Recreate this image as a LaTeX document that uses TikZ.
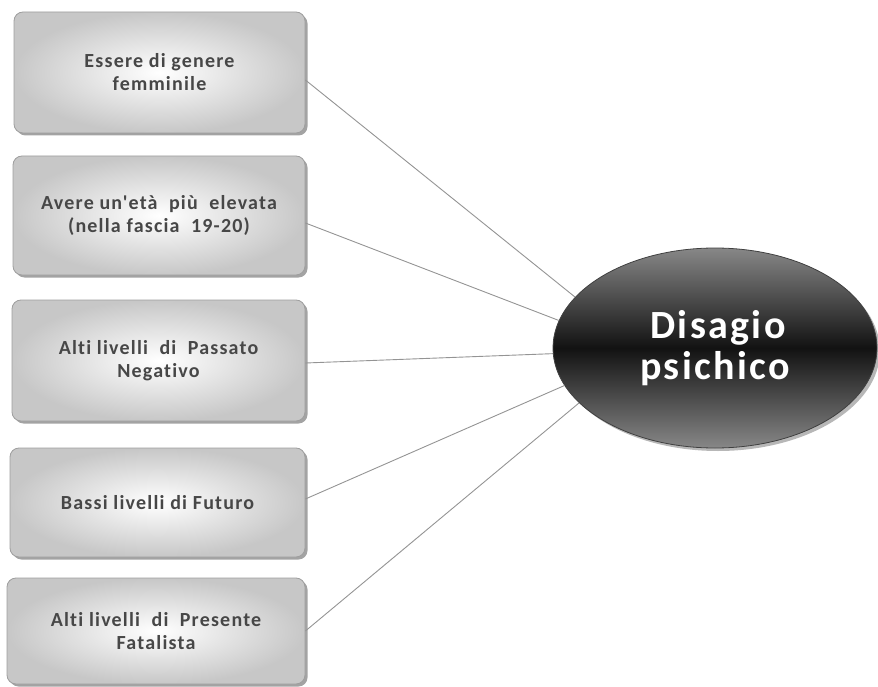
\documentclass[tikz,border=0pt]{standalone}
\usepackage{fontspec}
\setmainfont{Carlito}[Ligatures={TeXOff,NoCommon}]
\usetikzlibrary{shapes.geometric,shadows}

\begin{document}
\begin{tikzpicture}[x=1pt,y=-1pt,
  factor/.style={draw=black!38, line width=0.8pt, rounded corners=9pt,
    inner color=white, outer color=black!22, inner sep=0pt,
    align=center, text=black!72,
    font=\bfseries\fontsize{20}{23}\selectfont\addfontfeature{LetterSpace=6},
    drop shadow={shadow xshift=2.5pt, shadow yshift=-2.5pt, fill=black!45, opacity=0.8}},
  outcome/.style={ellipse, draw=black!75, line width=0.8pt, inner sep=0pt,
    minimum width=324pt, minimum height=200pt,
    top color=black!47, bottom color=black!47, middle color=black!93,
    align=center, text=white,
    font=\bfseries\fontsize{40}{41}\selectfont\addfontfeature{LetterSpace=6},
    drop shadow={shadow xshift=3pt, shadow yshift=-3pt, fill=black!40, opacity=0.7}},
  link/.style={draw=black!42, line width=0.9pt}]

\useasboundingbox (0,0) rectangle (878,687);

% risk factors
\node[factor, minimum width=291pt, minimum height=121pt] (b1) at (159.5,72.5)
  {Essere di genere\\femminile};
\node[factor, minimum width=292pt, minimum height=119pt] (b2) at (159,215.5)
  {Avere un'età \ più \ elevata\\(nella fascia \ 19-20)};
\node[factor, minimum width=293pt, minimum height=121pt] (b3) at (158.5,360.5)
  {Alti livelli \ di \ Passato\\Negativo};
\node[factor, minimum width=295pt, minimum height=109pt] (b4) at (157.5,502.5)
  {Bassi livelli di Futuro};
\node[factor, minimum width=298pt, minimum height=106pt] (b5) at (156,631)
  {Alti livelli \ di \ Presente\\Fatalista};

% outcome
\node[outcome] (dis) at (715,348) {\hspace*{6pt}Disagio\\psichico};

% connectors
\draw[link] ([yshift=-7.5pt]b1.east) -- (dis.160);
\draw[link] ([yshift=-7.5pt]b2.east) -- (dis.170.5);
\draw[link] ([yshift=-2.5pt]b3.east) -- (dis.182.5);
\draw[link] ([yshift=3.5pt]b4.east) -- (dis.194.5);
\draw[link] (b5.east) -- (dis.202.5);
\end{tikzpicture}
\end{document}
